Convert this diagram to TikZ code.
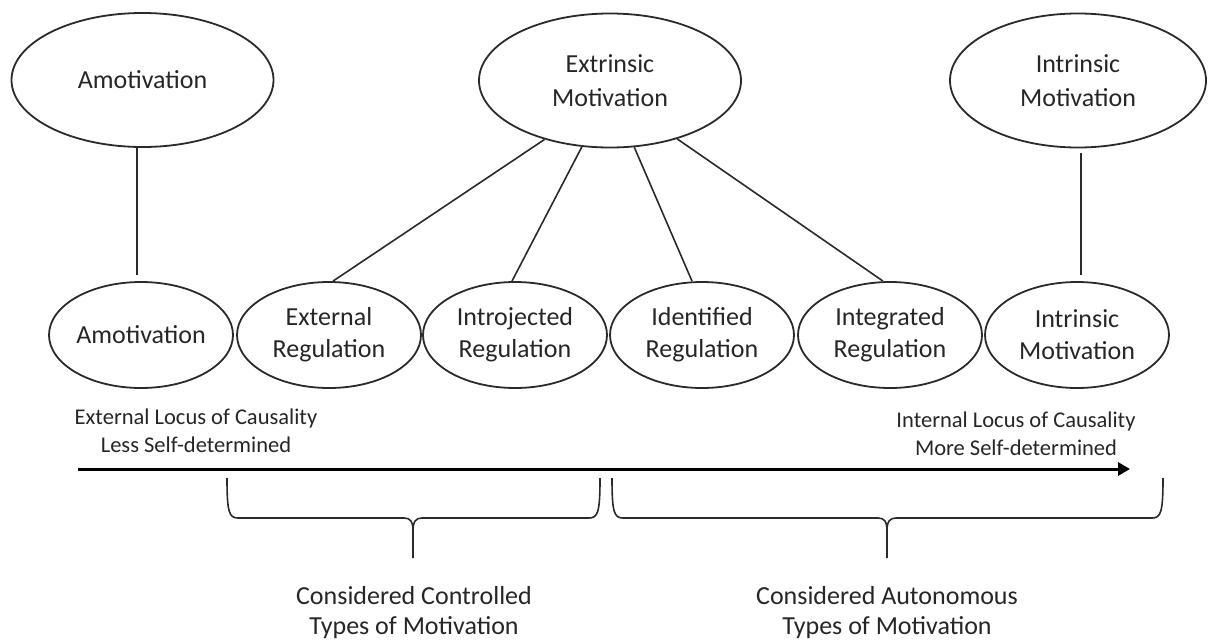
\documentclass[tikz,border=0pt]{standalone}
\usepackage{fontspec}
\setmainfont{Carlito}
\usetikzlibrary{shapes.geometric,arrows.meta}
\definecolor{ink}{HTML}{2A2A2A}
\definecolor{txt}{HTML}{262626}
\begin{document}
\begin{tikzpicture}[x=1pt,y=-1pt,
  oval/.style={ellipse, draw=ink, line width=1.8pt, inner sep=0pt, align=center, text=txt},
  topoval/.style={oval, minimum width=262pt, minimum height=134pt, font=\fontsize{26}{34}\selectfont},
  botoval/.style={oval, minimum width=184pt, minimum height=106pt, font=\fontsize{26}{32}\selectfont},
  conn/.style={draw=ink, line width=1.6pt},
  bracepath/.style={draw=ink, line width=1.6pt},
  locus/.style={align=center, inner sep=0pt, text=txt, font=\fontsize{22.5}{28}\selectfont},
  typelabel/.style={align=center, inner sep=0pt, text=txt, font=\fontsize{26}{30}\selectfont}]
\useasboundingbox (0,0) rectangle (1208,643);

% top row
\node[topoval] (amoT) at (142.5,80) {Amotivation};
\node[topoval] (extT) at (610,80.5) {Extrinsic\\Motivation};
\node[topoval, minimum width=256pt] (intT) at (1078,80.5) {Intrinsic\\Motivation};

% bottom row
\node[botoval] (amoB) at (141,335) {Amotivation};
\node[botoval] (extR) at (329,335) {External\\Regulation};
\node[botoval] (intro) at (515,335) {Introjected\\Regulation};
\node[botoval] (ident) at (702,335) {Identified\\Regulation};
\node[botoval] (integ) at (890,335) {Integrated\\Regulation};
\node[botoval] (intB) at (1077,335) {Intrinsic\\Motivation};

% vertical connectors
\coordinate (amoEnd) at (137,275);
\coordinate (intEnd) at (1081,275);
\draw[conn] (amoEnd |- amoT.south) -- (amoEnd);
\draw[conn] ([yshift=-5pt]intEnd |- intT.south) -- (intEnd);

% extrinsic fan
\draw[conn] (extT.222.7) -- ([xshift=4pt]extR.north);
\draw[conn] (extT.247.3) -- ([xshift=-3pt]intro.north);
\draw[conn] (extT.290.5) -- ([xshift=-10pt]ident.north);
\draw[conn] (extT.319) -- ([xshift=-7pt]integ.north);

% locus texts
\node[locus] (extLoc) at (196,431) {External Locus of Causality\\Less Self-determined};
\node[locus] (intLoc) at (1016,434) {Internal Locus of Causality\\More Self-determined};

% arrow
\coordinate (arrS) at (78,469);
\coordinate (arrE) at (1130,469);
\draw[draw=black, line width=3pt, -{Triangle[length=12pt,width=13pt]}] (arrS) -- (arrE);

% left brace
\draw[bracepath] (227,478) .. controls (227,512) and (229,518) .. (238,518) -- (404,518)
  .. controls (410,518) and (413,521) .. (413,531) -- (413,558);
\draw[bracepath] (600,478) .. controls (600,512) and (598,518) .. (589,518) -- (422,518)
  .. controls (416,518) and (413,521) .. (413,531);

% right brace
\draw[bracepath] (612,478) .. controls (612,512) and (614,518) .. (623,518) -- (878,518)
  .. controls (884,518) and (887,521) .. (887,531) -- (887,558);
\draw[bracepath] (1163,478) .. controls (1163,512) and (1161,518) .. (1152,518) -- (896,518)
  .. controls (890,518) and (887,521) .. (887,531);

% captions
\node[typelabel] (ctrl) at (414,613) {Considered Controlled\\Types of Motivation};
\node[typelabel] (auto) at (887,613) {Considered Autonomous\\Types of Motivation};
\end{tikzpicture}
\end{document}
